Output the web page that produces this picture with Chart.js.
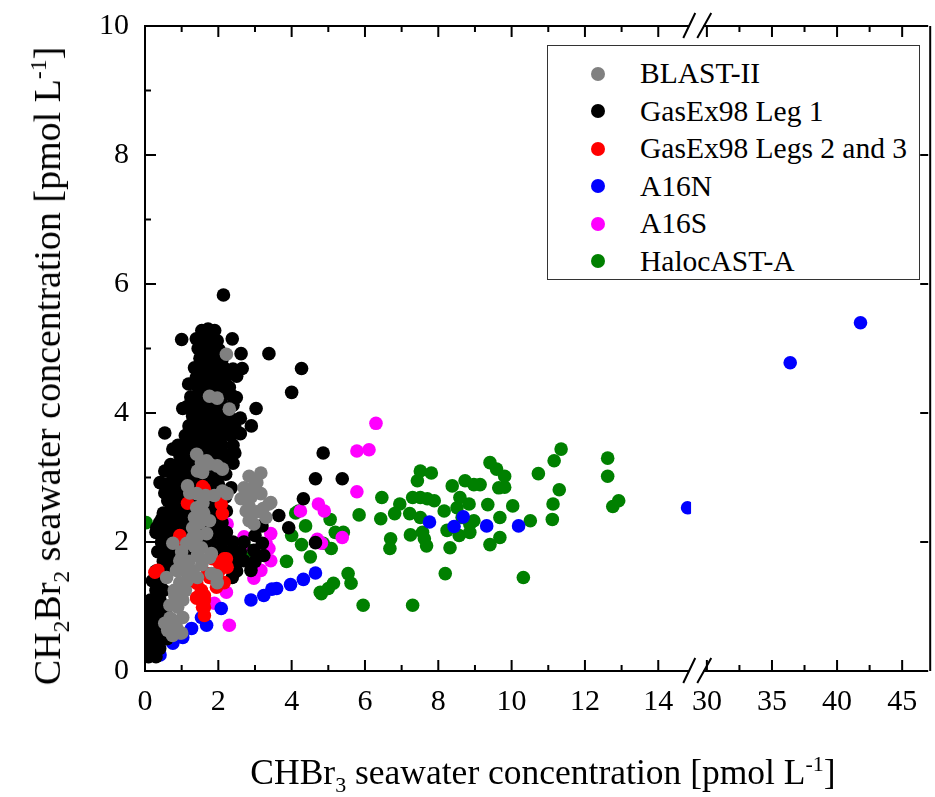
<!DOCTYPE html>
<html>
<head>
<meta charset="utf-8">
<script src="https://cdn.jsdelivr.net/npm/chart.js"></script>
<style>
  body { margin: 0; background: #fff; }
  #wrap { position: relative; width: 935px; height: 797px; font-family: 'Liberation Serif', 'Times New Roman', serif; }
  #legend { position: absolute; left: 547px; top: 45px; width: 373px; height: 235px; border: 1px solid #333;
            box-sizing: border-box; padding-top: 9px; font-size: 29.5px; background: #fff; }
  .item { height: 37.5px; display: flex; align-items: center; white-space: nowrap; }
  .dot { width: 14px; height: 14px; border-radius: 50%; margin-left: 43px; margin-right: 35px; }
  .title { position: absolute; white-space: nowrap; line-height: 1; }
  .title sub, .title sup { font-size: 0.62em; line-height: 0; }
  #xtitle { font-size: 35.5px; left: 543px; top: 773px; transform: translate(-50%, -50%); }
  #ytitle { font-size: 38px; left: 47px; top: 366px; transform: translate(-50%, -50%) rotate(-90deg); }
</style>
</head>
<body>
<div id="wrap">
  <canvas id="chart" width="935" height="797"></canvas>
  <div id="legend"></div>
  <div id="xtitle" class="title">CHBr<sub>3</sub> seawater concentration [pmol L<sup>-1</sup>]</div>
  <div id="ytitle" class="title">CH<sub>2</sub>Br<sub>2</sub> seawater concentration [pmol L<sup>-1</sup>]</div>
</div>
<script>
// tick values
const xMajorLeft = [0, 2, 4, 6, 8, 10, 12, 14];
const xMinorLeft = [1, 3, 5, 7, 9, 11, 13];
const xMajorRight = [30, 35, 40, 45];
const xMinorRight = [32.5, 37.5, 42.5];
const yMajor = [0, 2, 4, 6, 8, 10];
const yMinor = [1, 3, 5, 7, 9];

// [CHBr3, CH2Br2] in pmol/L
const blastII = [
  [2.22,4.91],[1.76,4.26],[1.97,4.23],[2.30,4.06],
  [1.41,3.36],[1.54,3.23],[1.68,3.26],[1.76,3.21],[1.97,3.18],[2.11,3.13],[1.43,3.10],[1.57,3.08],
  [2.84,3.02],[3.16,3.07],[3.05,2.92],[2.70,2.84],[2.97,2.85],[2.90,2.70],[3.16,2.75],[3.43,2.61],
  [2.62,2.67],[2.84,2.55],[2.76,2.48],[3.05,2.47],[3.22,2.52],[3.30,2.38],[3.38,2.59],[2.84,2.33],[2.97,2.28],
  [1.16,2.87],[1.22,2.76],[1.41,2.75],[1.65,2.72],[1.89,2.72],[2.11,2.79],[2.24,2.75],[1.41,2.53],
  [1.58,2.60],[1.60,2.45],[1.35,2.38],[1.50,2.30],[1.76,2.33],[1.30,2.22],[1.45,2.10],[1.68,2.13],
  [1.30,2.07],[1.14,1.98],[0.76,1.98],[1.35,1.93],[1.54,1.91],[1.00,1.85],[1.43,1.79],[1.81,1.82],
  [1.00,1.76],[1.20,1.70],[0.95,1.71],[1.76,1.76],[1.55,1.65],[0.86,1.56],[1.10,1.55],[1.30,1.55],
  [0.59,1.45],[1.43,1.45],[1.81,1.51],[1.95,1.48],[0.95,1.37],[1.15,1.40],[1.97,1.37],[0.80,1.25],
  [1.10,1.25],[0.81,1.17],[1.03,1.10],[0.68,1.02],[0.89,0.99],[0.68,0.82],[1.03,0.83],[0.76,0.79],
  [0.86,0.68],[0.54,0.74],[0.62,0.63],[0.95,0.59],[1.00,0.59],[0.75,0.55]
];
const gasex98Leg1 = [
  [2.14,5.83],[1.00,5.14],[2.38,5.15],[1.55,5.28],[1.72,5.30],[1.90,5.28],
  [1.40,5.15],[1.60,5.15],[1.80,5.17],[1.97,5.12],
  [1.45,5.00],[1.65,5.00],[1.85,5.02],[2.02,4.98],
  [1.50,4.85],[1.70,4.85],[1.90,4.85],[2.10,4.83],[2.62,4.92],[3.38,4.92],
  [1.35,4.70],[1.55,4.70],[1.75,4.70],[1.95,4.70],[2.15,4.70],[2.40,4.68],[2.65,4.69],[4.27,4.69],
  [1.40,4.55],[1.60,4.55],[1.80,4.55],[2.00,4.55],[2.20,4.55],[2.50,4.57],
  [1.19,4.45],[1.45,4.40],[1.65,4.40],[1.85,4.40],[2.05,4.40],[2.30,4.40],
  [1.25,4.25],[1.50,4.25],[1.70,4.25],[1.90,4.25],[2.10,4.25],[2.35,4.28],[2.49,4.24],[4.00,4.32],
  [1.15,4.10],[1.35,4.10],[1.55,4.10],[1.75,4.10],[1.95,4.10],[2.15,4.10],[2.40,4.12],
  [1.03,4.07],[1.30,3.95],[1.50,3.95],[1.70,3.95],[1.90,3.95],[2.10,3.95],[2.30,3.95],[2.60,3.92],[3.03,4.07],
  [1.20,3.80],[1.40,3.80],[1.60,3.80],[1.80,3.80],[2.00,3.80],[2.20,3.80],[2.45,3.78],[2.90,3.80],
  [0.54,3.69],[1.10,3.65],[1.30,3.65],[1.50,3.65],[1.70,3.65],[1.90,3.65],[2.10,3.65],[2.35,3.65],[2.60,3.68],
  [0.90,3.50],[1.10,3.50],[1.30,3.50],[1.50,3.50],[1.70,3.50],[1.90,3.50],[2.10,3.50],[2.40,3.50],
  [0.76,3.44],[0.95,3.35],[1.15,3.35],[1.35,3.35],[1.55,3.35],[1.75,3.35],[1.95,3.35],[2.20,3.35],[2.45,3.38],[4.86,3.38],
  [0.70,3.20],[0.90,3.20],[1.10,3.20],[1.30,3.20],[1.50,3.20],[1.70,3.20],[1.90,3.20],[2.10,3.20],[2.40,3.22],
  [0.54,3.10],[0.75,3.05],[0.95,3.05],[1.15,3.05],[1.35,3.05],[1.55,3.05],[1.75,3.05],[1.95,3.05],[2.20,3.05],[4.65,2.98],[5.38,2.98],
  [0.41,2.92],[0.60,2.90],[0.80,2.90],[1.00,2.90],[1.20,2.90],[1.40,2.90],[1.60,2.90],[1.80,2.90],[2.00,2.90],[2.35,2.84],
  [0.54,2.76],[0.70,2.75],[0.90,2.75],[1.10,2.75],[1.30,2.75],[1.50,2.75],[1.70,2.75],[1.90,2.75],[2.20,2.70],[4.32,2.67],
  [0.62,2.64],[0.80,2.60],[1.00,2.60],[1.20,2.60],[1.40,2.60],[1.60,2.60],[1.80,2.60],[2.05,2.60],[2.22,2.48],
  [0.68,2.48],[0.50,2.45],[0.90,2.45],[1.10,2.45],[1.30,2.45],[1.50,2.45],[1.70,2.45],[1.90,2.45],[3.65,2.41],
  [0.46,2.36],[0.40,2.30],[0.60,2.30],[0.80,2.30],[1.00,2.30],[1.20,2.30],[1.60,2.30],[1.85,2.30],[2.10,2.30],[3.19,2.25],[3.92,2.22],
  [0.32,2.22],[0.30,2.15],[0.55,2.15],[0.75,2.15],[1.00,2.15],[1.25,2.15],[1.50,2.15],[1.75,2.15],[2.00,2.15],[2.22,2.15],[3.00,2.10],
  [0.45,2.00],[0.70,2.00],[0.95,2.00],[1.20,2.00],[1.50,2.00],[1.80,2.00],[2.10,2.00],[2.40,2.00],[2.70,2.00],[3.20,1.98],[4.65,1.99],
  [0.35,1.85],[0.60,1.85],[0.85,1.85],[1.10,1.85],[2.00,1.85],[2.30,1.85],[2.60,1.85],[2.97,1.87],[3.24,1.79],
  [0.50,1.70],[0.75,1.70],[2.20,1.70],[2.45,1.70],[2.70,1.71],[3.00,1.70],
  [0.30,1.55],[0.55,1.55],[2.50,1.55],[2.89,1.56],[2.38,1.45],
  [0.20,1.40],[0.45,1.40],[0.30,1.25],[0.50,1.25],[0.15,1.10],[0.41,1.10],
  [0.10,0.95],[0.30,0.95],[0.55,0.95],[0.05,0.80],[0.25,0.80],[0.45,0.80],[0.65,0.80],
  [0.05,0.65],[0.25,0.65],[0.45,0.65],[0.65,0.65],[0.05,0.50],[0.20,0.50],[0.40,0.50],[0.60,0.50],
  [0.05,0.35],[0.20,0.35],[0.40,0.35],[0.10,0.22],[0.30,0.22]
];
const gasex98Legs23 = [
  [1.62,2.82],[1.57,2.86],[2.08,2.59],[2.11,2.44],[1.16,2.60],[0.95,2.10],[0.90,2.02],
  [0.35,1.56],[0.27,1.53],[2.22,1.74],[2.03,1.67],[2.16,1.74],[2.24,1.61],[2.03,1.56],[1.84,1.74],
  [1.70,1.51],[1.76,1.45],[2.16,1.37],[1.95,1.30],[1.41,1.36],[1.27,1.40],[1.22,1.44],
  [1.41,1.14],[1.62,1.17],[1.54,1.25],[1.62,1.10],[1.62,0.99],[1.57,0.99],[1.62,0.86],[1.41,1.13]
];
const a16n = [
  [36.4,4.78],[41.8,5.40],[14.8,2.53],
  [7.76,2.31],[8.43,2.24],[8.68,2.39],[9.32,2.25],[10.19,2.25],
  [2.89,1.10],[3.24,1.17],[3.46,1.27],[3.59,1.28],[3.97,1.34],[4.32,1.42],[4.65,1.52],
  [2.08,0.97],[1.68,0.71],[1.54,0.83],[1.27,0.66],[1.03,0.52],[0.76,0.43],[0.41,0.25]
];
const a16s = [
  [6.30,3.84],[5.78,3.41],[6.11,3.43],[5.78,2.78],[4.73,2.59],[4.89,2.48],[4.24,2.48],[5.38,2.07],
  [4.81,1.98],[4.70,2.04],[2.24,2.28],[2.70,2.08],[3.43,2.13],[3.30,1.98],[2.22,1.98],[2.65,1.91],
  [3.38,1.90],[3.43,1.71],[3.16,1.56],[2.97,1.44],[2.22,1.22],[1.89,1.05],[2.30,0.71]
];
const halocastA = [
  [0.03,2.30],[1.16,2.44],[2.84,1.87],
  [3.86,1.70],[4.00,2.10],[4.11,2.45],[4.19,2.48],[4.27,1.96],[4.38,2.25],[4.51,1.77],[4.78,1.22],
  [4.81,1.20],[4.86,1.98],[5.00,1.28],[5.05,2.35],[5.08,1.90],[5.14,1.36],[5.19,2.15],[5.41,2.15],
  [5.54,1.51],[5.62,1.36],[5.84,2.42],[5.95,1.02],
  [6.43,2.36],[6.46,2.69],[6.68,1.90],[6.70,2.05],[6.81,2.44],[6.95,2.59],
  [7.22,2.44],[7.24,2.11],[7.30,2.69],[7.30,1.02],[7.43,2.95],[7.51,3.10],[7.51,2.69],[7.51,2.38],
  [7.57,2.15],[7.62,2.05],[7.68,1.94],[7.70,2.67],[7.81,3.07],[7.89,2.64],
  [8.16,2.48],[8.19,1.51],[8.24,2.18],[8.32,1.91],[8.38,2.87],[8.51,2.53],[8.57,2.10],[8.59,2.69],
  [8.65,2.38],[8.73,2.95],[8.84,2.59],[8.86,2.28],[8.86,2.15],[8.97,2.89],[8.97,2.33],
  [9.14,2.89],[9.35,2.58],[9.41,3.23],[9.41,1.96],[9.59,3.13],[9.65,2.84],[9.68,2.38],[9.68,2.07],
  [9.81,3.02],[9.81,2.85],
  [10.03,2.56],[10.32,1.45],[10.51,2.33],[10.73,3.06],[11.11,2.35],[11.13,2.59],[11.16,3.26],
  [11.30,2.81],[11.35,3.44],
  [12.62,3.30],[12.62,3.02],[12.76,2.55],[12.92,2.64]
];

// legend order; draw order: lower order on top (red above black)
const series = [
  { label: 'BLAST-II', data: blastII, color: '#808080', order: 0 },
  { label: 'GasEx98 Leg 1', data: gasex98Leg1, color: '#000000', order: 2 },
  { label: 'GasEx98 Legs 2 and 3', data: gasex98Legs23, color: '#ff0000', order: 1 },
  { label: 'A16N', data: a16n, color: '#0000ff', order: 3 },
  { label: 'A16S', data: a16s, color: '#ff00ff', order: 4 },
  { label: 'HalocAST-A', data: halocastA, color: '#008000', order: 5 },
];

const legendEl = document.getElementById('legend');
series.forEach(s => {
  const item = document.createElement('div');
  item.className = 'item';
  item.innerHTML = `<span class="dot" style="background:${s.color}"></span><span>${s.label}</span>`;
  legendEl.appendChild(item);
});

// values above 20 go on the right part of the broken axis
const datasets = [];
series.forEach(s => {
  const toPts = arr => arr.map(p => ({ x: p[0], y: p[1] }));
  const left = s.data.filter(p => p[0] < 20);
  const right = s.data.filter(p => p[0] >= 20);
  datasets.push({ label: s.label, data: toPts(left), xAxisID: 'x', backgroundColor: s.color, order: s.order });
  if (right.length) {
    datasets.push({ label: s.label, data: toPts(right), xAxisID: 'x2', backgroundColor: s.color, order: s.order });
  }
});

const tickFont = { family: "'Liberation Serif', serif", size: 30 };

const axesPlugin = {
  id: 'axes',
  beforeDatasetDraw(chart, args) {
    const { ctx, chartArea } = chart;
    const xs = args.meta.xScale;
    ctx.save();
    ctx.beginPath();
    ctx.rect(xs.left, chartArea.top, xs.right - xs.left, chartArea.bottom - chartArea.top);
    ctx.clip();
  },
  afterDatasetDraw(chart) {
    chart.ctx.restore();
  },
  afterDraw(chart) {
    const { ctx, chartArea: a } = chart;
    const xl = chart.scales.x, xr = chart.scales.x2, ys = chart.scales.y;
    const line = (x1, y1, x2, y2) => { ctx.moveTo(x1, y1); ctx.lineTo(x2, y2); };
    ctx.save();
    ctx.strokeStyle = '#000';
    ctx.lineWidth = 2;
    ctx.beginPath();
    line(a.left, a.top - 1, a.left, a.bottom + 1);
    line(a.left, a.bottom, a.right, a.bottom);
    line(a.left, a.top, a.right, a.top);
    line(a.right + 2, a.top, a.right + 2, a.bottom);
    [[xl, xMajorLeft, xMinorLeft], [xr, xMajorRight, xMinorRight]].forEach(([s, maj, min]) => {
      maj.forEach(v => {
        const p = s.getPixelForValue(v);
        line(p, a.bottom, p, a.bottom - 11);
        line(p, a.top, p, a.top + 11);
      });
      min.forEach(v => {
        const p = s.getPixelForValue(v);
        line(p, a.bottom, p, a.bottom - 6);
        line(p, a.top, p, a.top + 6);
      });
    });
    yMajor.forEach(v => {
      const p = ys.getPixelForValue(v);
      line(a.left, p, a.left + 11, p);
      line(a.right, p, a.right - 8, p);
    });
    yMinor.forEach(v => {
      const p = ys.getPixelForValue(v);
      line(a.left, p, a.left + 6, p);
    });
    ctx.stroke();

    // axis break marks
    const b = xl.right;
    [a.top, a.bottom].forEach(yy => {
      ctx.fillStyle = '#fff';
      ctx.fillRect(b - 2, yy - 2, 14, 4);
      ctx.beginPath();
      line(b - 8, yy + 12, b + 4, yy - 13);
      line(b + 6, yy + 12, b + 20, yy - 13);
      ctx.stroke();
    });
    ctx.restore();
  }
};

const xCommon = {
  type: 'linear',
  position: 'bottom',
  stack: 'xs',
  grid: { display: false },
  border: { display: false },
  ticks: { color: '#000', font: tickFont, padding: 5, autoSkip: false, maxRotation: 0 },
  afterFit: s => { s.height = 126; }
};

new Chart(document.getElementById('chart'), {
  type: 'scatter',
  data: { datasets },
  options: {
    responsive: false,
    animation: false,
    events: [],
    layout: { padding: { top: 23, right: 0, left: 0, bottom: 0 } },
    elements: { point: { radius: 6.8, borderWidth: 0, hoverRadius: 6.8 } },
    plugins: { legend: { display: false }, tooltip: { enabled: false } },
    scales: {
      x: Object.assign({}, xCommon, {
        min: 0, max: 14.9, stackWeight: 551,
        afterBuildTicks: s => { s.ticks = xMajorLeft.map(v => ({ value: v })); }
      }),
      x2: Object.assign({}, xCommon, {
        min: 28.8, max: 47, stackWeight: 239,
        afterBuildTicks: s => { s.ticks = xMajorRight.map(v => ({ value: v })); }
      }),
      y: {
        min: 0, max: 10,
        position: 'left',
        grid: { display: false },
        border: { display: false },
        ticks: { color: '#000', font: tickFont, padding: 8 },
        afterBuildTicks: s => { s.ticks = yMajor.map(v => ({ value: v })); },
        afterFit: s => { s.width = 145; }
      }
    }
  },
  plugins: [axesPlugin]
});
</script>
</body>
</html>
